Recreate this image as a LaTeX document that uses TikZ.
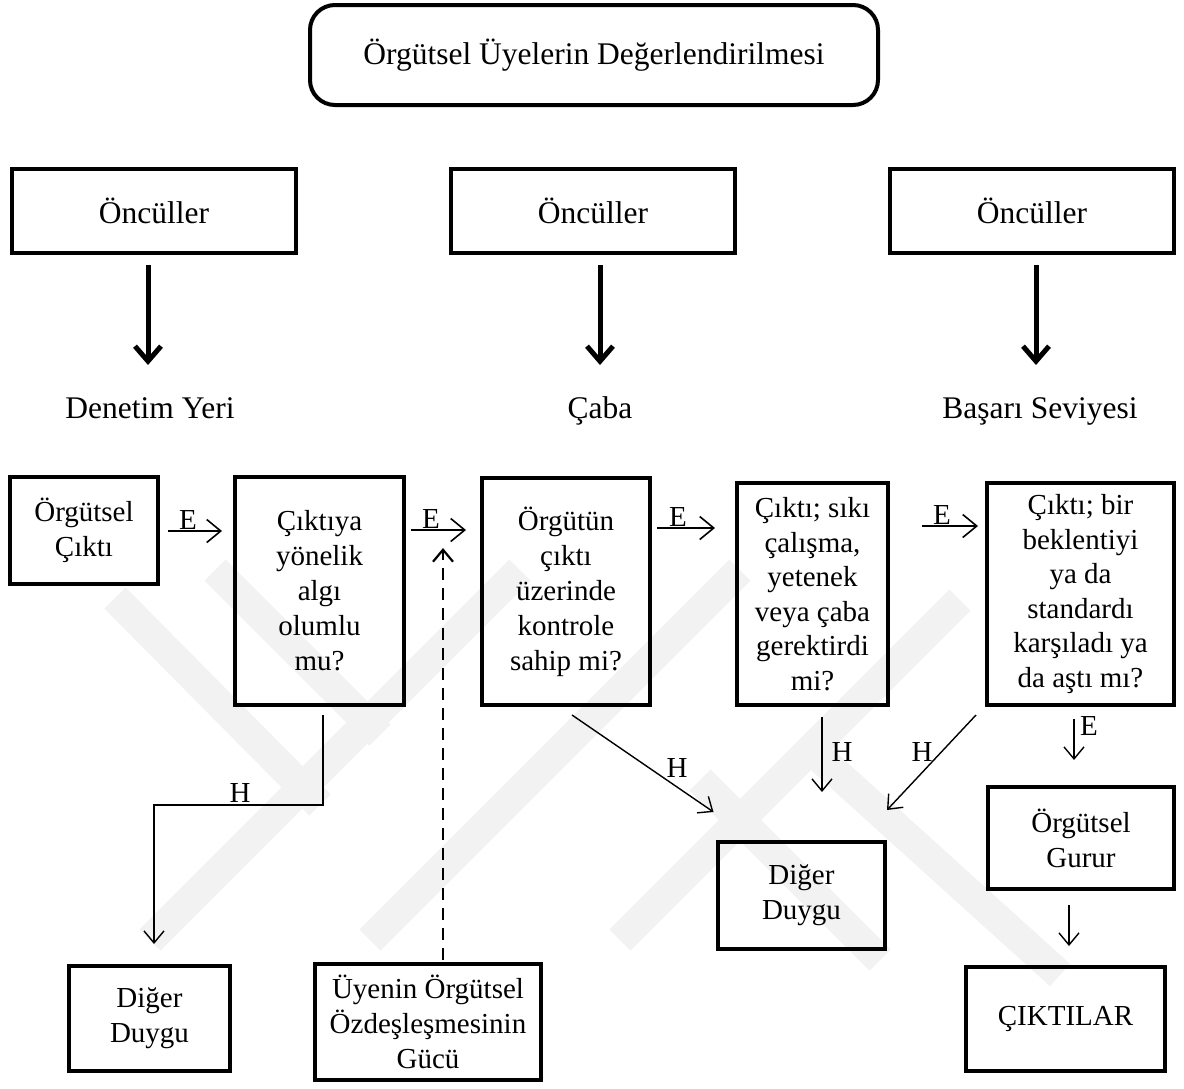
\documentclass[tikz,border=0pt]{standalone}
\usepackage{fontspec}
\setmainfont{Liberation Serif}
\usetikzlibrary{arrows.meta,calc}
\begin{document}
\begin{tikzpicture}[x=1pt,y=-1pt,
  txt/.style={font=\fontsize{29}{35}\selectfont, align=center},
  head/.style={font=\fontsize{31.5}{36}\selectfont, align=center},
  box/.style={txt, draw, line width=4pt, inner sep=0pt},
  hbox/.style={box, head},
  earrow/.style={line width=1.6pt, -{Straight Barb[length=14pt,width=23pt]}},
  harrow/.style={line width=1.4pt, -{Straight Barb[length=12pt,width=20pt]}},
  bigarrow/.style={line width=5pt, -{Straight Barb[length=15pt,width=26pt]}},
  dasharrow/.style={line width=2.2pt, dash pattern=on 12pt off 8pt, -{Straight Barb[length=12pt,width=20pt]}},
  lbl/.style={font=\fontsize{29}{35}\selectfont, inner sep=0pt},
  wm/.style={line width=30pt, color=black!5, line cap=butt}
]
\useasboundingbox (0,0) rectangle (1184,1088);
% faint watermark
\begin{scope}
\draw[wm] (215,570) -- (380,735);
\draw[wm] (115,598) -- (320,805);
\draw[wm] (150,940) -- (520,570);
\draw[wm] (370,940) -- (740,570);
\draw[wm] (620,940) -- (960,600);
\draw[wm] (700,780) -- (880,960);
\draw[wm] (800,740) -- (1060,975);
\end{scope}

% title
\node[hbox, rounded corners=25pt, minimum width=568pt, minimum height=100pt] (title) at (594,55) {Örgütsel Üyelerin Değerlendirilmesi};

% Öncüller
\node[hbox, minimum width=284pt, minimum height=84pt] (onc1) at (154,211) {Öncüller};
\node[hbox, minimum width=284pt, minimum height=84pt] (onc2) at (593,211) {Öncüller};
\node[hbox, minimum width=284pt, minimum height=84pt] (onc3) at (1032,211) {Öncüller};

% labels
\node[head, anchor=base] (lab1) at (150,418) {Denetim Yeri};
\node[head, anchor=base] (lab2) at (600,418) {Çaba};
\node[head, anchor=base] (lab3) at (1040,418) {Başarı Seviyesi};

\draw[bigarrow] ([xshift=-6pt,yshift=-10pt]onc1.south) -- ([xshift=-6pt,yshift=-110pt]onc1.south);
\draw[bigarrow] ([xshift=7pt,yshift=-10pt]onc2.south) -- ([xshift=7pt,yshift=-110pt]onc2.south);
\draw[bigarrow] ([xshift=4pt,yshift=-10pt]onc3.south) -- ([xshift=4pt,yshift=-110pt]onc3.south);

% main row
\node[box, minimum width=148pt, minimum height=107pt] (b1) at (84,530.5) {Örgütsel\\Çıktı};
\node[box, minimum width=169pt, minimum height=228pt] (b2) at (319.5,591) {Çıktıya\\yönelik\\algı\\olumlu\\mu?};
\node[box, minimum width=168pt, minimum height=227pt] (b3) at (566,591.5) {Örgütün\\çıktı\\üzerinde\\kontrole\\sahip mi?};
\node[box, minimum width=151pt, minimum height=222pt, font=\fontsize{29}{34.5}\selectfont] (b4) at (812.5,594) {Çıktı; sıkı\\çalışma,\\yetenek\\veya çaba\\gerektirdi\\mi?};
\node[box, minimum width=187pt, minimum height=222pt, font=\fontsize{29}{34.5}\selectfont] (b5) at (1080.5,594) {Çıktı; bir\\beklentiyi\\ya da\\standardı\\karşıladı ya\\da aştı mı?};

% lower boxes
\node[box, minimum width=167pt, minimum height=107pt] (dd2) at (801.5,895.5) {Diğer\\Duygu};
\node[box, minimum width=186pt, minimum height=102pt] (gur) at (1081,838) {Örgütsel\\Gurur};
\node[box, minimum width=199pt, minimum height=104pt] (cik) at (1065.5,1019) {ÇIKTILAR};
\node[box, minimum width=161pt, minimum height=105pt] (dd1) at (149.5,1018.5) {Diğer\\Duygu};
\node[box, minimum width=226pt, minimum height=116pt] (uye) at (428,1022) {Üyenin Örgütsel\\Özdeşleşmesinin\\Gücü};

% E arrows
\coordinate (r1) at (0,531);
\coordinate (r2) at (0,530);
\coordinate (r3) at (0,528);
\coordinate (r4) at (0,526);
\draw[earrow] ($(b1.east|-r1)+(8,0)$) -- ($(b2.west|-r1)+(-11,0)$);
\node[lbl, anchor=south] at (188,530) {E};
\draw[earrow] ($(b2.east|-r2)+(5,0)$) -- ($(b3.west|-r2)+(-14,0)$);
\node[lbl, anchor=south] at (431,529) {E};
\draw[earrow] ($(b3.east|-r3)+(5,0)$) -- ($(b4.west|-r3)+(-20,0)$);
\node[lbl, anchor=south] at (678,527) {E};
\draw[earrow] ($(b4.east|-r4)+(32,0)$) -- ($(b5.west|-r4)+(-7,0)$);
\node[lbl, anchor=south] at (942,525) {E};

% dashed
\draw[dasharrow] ($(uye.north)+(15,-2)$) -- ($(b2.east|-r2)+(37,18)$);

% H connectors
\coordinate (hk) at (323,805);
\draw[harrow] ($(b2.south)+(3.5,8)$) -- (hk) -| ($(dd1.north)+(4.5,-20)$);
\node[lbl, anchor=south] at (240,803) {H};
\draw[harrow] ($(b3.south)+(6,8)$) -- ($(dd2.north)+(-88,-28)$);
\node[lbl] at (677,768) {H};
\draw[harrow] ($(b4.south)+(9.5,10)$) -- ($(dd2.north)+(20.5,-48)$);
\node[lbl] at (842,752) {H};
\draw[harrow] ($(b5.south)+(-104.5,8)$) -- ($(dd2.north)+(85.5,-30)$);
\node[lbl] at (922,752) {H};
\draw[harrow] ($(b5.south)+(-6.5,12)$) -- ($(gur.north)+(-7,-25)$);
\node[lbl] at (1089,726) {E};
\draw[harrow] ($(gur.south)+(-12,14)$) -- ($(cik.north)+(3.5,-19)$);
\end{tikzpicture}
\end{document}
